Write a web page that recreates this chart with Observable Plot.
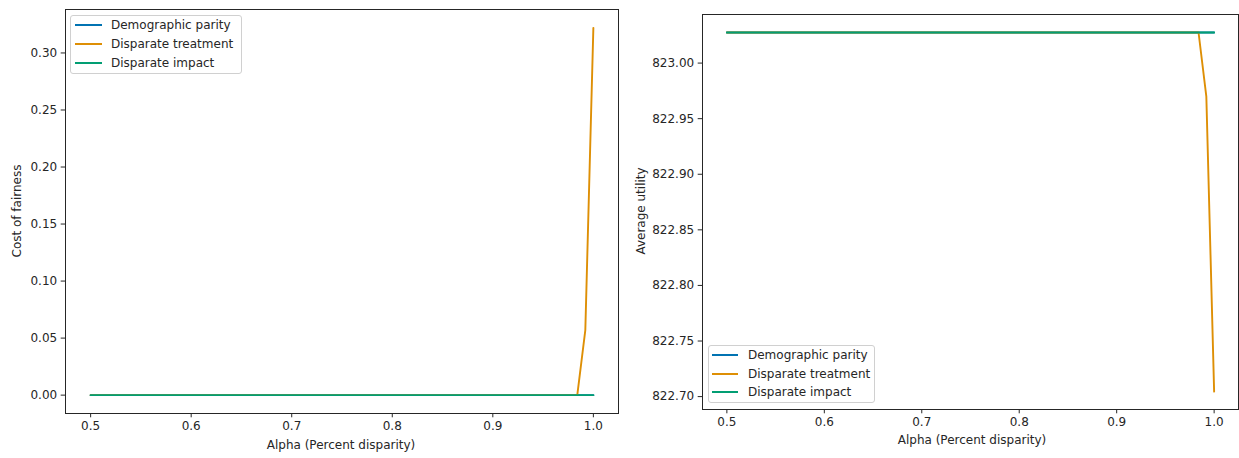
<!DOCTYPE html>
<html>
<head>
<meta charset="utf-8">
<script src="https://cdn.jsdelivr.net/npm/d3@7"></script>
<script src="https://cdn.jsdelivr.net/npm/@observablehq/plot@0.6"></script>
<style>
  html, body { margin: 0; padding: 0; background: #fff; }
  #root { position: relative; width: 1239px; height: 458px; overflow: hidden; font-family: "DejaVu Sans", sans-serif; color: #262626; }
  .panel { position: absolute; top: 0; }
  .lbl { position: absolute; font-size: 12px; white-space: nowrap; color: #262626; }
  .legend { position: absolute; background: rgba(255,255,255,0.8); border: 1px solid #d0d0d0; border-radius: 3px; box-sizing: border-box; font-size: 12px; }
  .sw { position: absolute; height: 2px; }
  .tx { position: absolute; white-space: nowrap; color: #262626; line-height: 14px; }
</style>
</head>
<body>
<div id="root"></div>
<script>
// ---- data ----
const seriesNames = ["Demographic parity", "Disparate treatment", "Disparate impact"];
const seriesColors = ["#0173b2", "#de8f05", "#029e73"];
const alphas = [0.5, 0.984, 0.992, 1.0];
const costParity = [0, 0, 0, 0];
const costTreatment = [0, 0, 0.057, 0.322];
const costImpact = [0, 0, 0, 0];
const utilParity = [823.0275, 823.0275, 823.0275, 823.0275];
const utilTreatment = [823.0275, 823.0275, 822.9698, 822.7045];
const utilImpact = [823.0275, 823.0275, 823.0275, 823.0275];
const xTicks = [0.5, 0.6, 0.7, 0.8, 0.9, 1.0];
const costTicks = [0, 0.05, 0.10, 0.15, 0.20, 0.25, 0.30];
const utilTicks = [822.70, 822.75, 822.80, 822.85, 822.90, 822.95, 823.00];

function rows(seriesArrays) {
  const out = [];
  seriesArrays.forEach((arr, si) => {
    arr.forEach((v, i) => out.push({ series: seriesNames[si], alpha: alphas[i], value: v }));
  });
  return out;
}

const root = document.getElementById("root");

function makePanel({ left, width, mt, mr, mb, ml, data, yDomain, yTicks }) {
  const p = Plot.plot({
    width, height: 458,
    marginTop: mt, marginRight: mr, marginBottom: mb, marginLeft: ml,
    style: { fontFamily: "DejaVu Sans, sans-serif", fontSize: "12px", color: "#262626", background: "transparent", overflow: "visible" },
    x: { domain: [0.475, 1.025], label: null },
    y: { domain: yDomain, label: null },
    color: { domain: seriesNames, range: seriesColors },
    marks: [
      Plot.axisX({ ticks: xTicks, tickFormat: d3.format(".1f"), tickSize: 4.3, tickPadding: 4, label: null, stroke: "#262626", fontSize: 12 }),
      Plot.axisY({ ticks: yTicks, tickFormat: d3.format(".2f"), tickSize: 4.3, tickPadding: 4, label: null, stroke: "#262626", fontSize: 12 }),
      Plot.line(data, { x: "alpha", y: "value", z: "series", stroke: "series", strokeWidth: 1.9 }),
      Plot.frame({ stroke: "#262626", strokeWidth: 1 })
    ]
  });
  const d = document.createElement("div");
  d.className = "panel";
  d.style.left = left + "px";
  d.appendChild(p);
  root.appendChild(d);
}

makePanel({ left: 0, width: 625, mt: 9, mr: 7, mb: 45, ml: 65,
  data: rows([costParity, costTreatment, costImpact]),
  yDomain: [-0.0161, 0.3381], yTicks: costTicks });

makePanel({ left: 630, width: 609, mt: 14, mr: 1, mb: 49, ml: 72,
  data: rows([utilParity, utilTreatment, utilImpact]),
  yDomain: [822.6884, 823.0437], yTicks: utilTicks });

function label(text, x, y, rotate) {
  const el = document.createElement("div");
  el.className = "lbl";
  el.textContent = text;
  el.style.left = x + "px";
  el.style.top = y + "px";
  el.style.transform = "translate(-50%,-50%)" + (rotate ? " rotate(-90deg)" : "");
  root.appendChild(el);
}
label("Alpha (Percent disparity)", 341, 445);
label("Cost of fairness", 17, 211, true);
label("Alpha (Percent disparity)", 972, 440);
label("Average utility", 641, 211, true);

function legend(x, y, w, h, swX, swW, txX, rowYs) {
  const box = document.createElement("div");
  box.className = "legend";
  box.style.left = x + "px"; box.style.top = y + "px";
  box.style.width = w + "px"; box.style.height = h + "px";
  seriesNames.forEach((n, i) => {
    const sw = document.createElement("div");
    sw.className = "sw";
    sw.style.left = (swX - x - 1) + "px";
    sw.style.width = swW + "px";
    sw.style.top = (rowYs[i] - y - 2) + "px";
    sw.style.background = seriesColors[i];
    box.appendChild(sw);
    const t = document.createElement("div");
    t.className = "tx";
    t.textContent = n;
    t.style.left = (txX - x - 1) + "px";
    t.style.top = (rowYs[i] - y - 8) + "px";
    box.appendChild(t);
  });
  root.appendChild(box);
}
legend(70, 15, 172, 59, 75, 27, 111, [25, 43.5, 62.5]);
legend(708, 345, 167, 58, 712, 26, 748, [355, 373.5, 392]);
</script>
</body>
</html>
